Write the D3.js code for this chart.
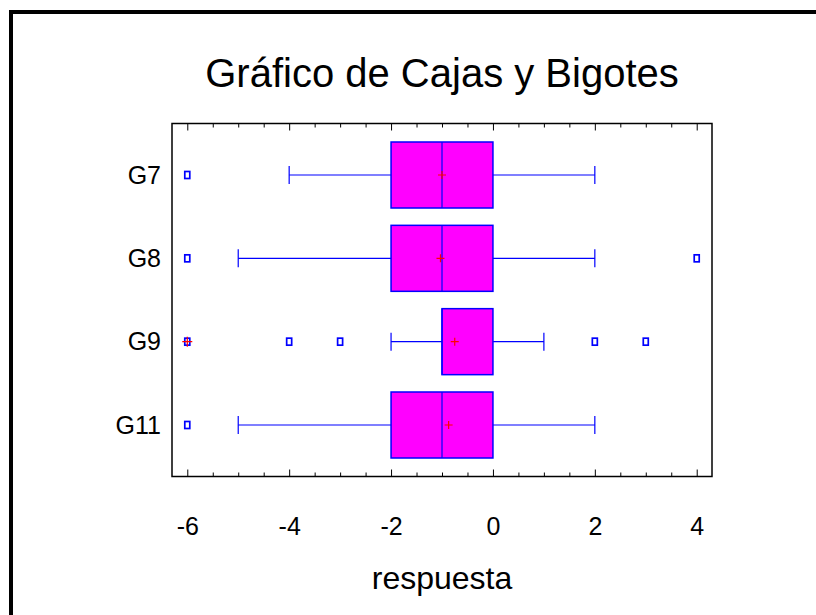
<!DOCTYPE html>
<html>
<head>
<meta charset="utf-8">
<script src="https://cdn.jsdelivr.net/npm/d3@7"></script>
<style>
body { margin: 0; background: #fff; }
text { font-family: "Liberation Sans", Arial, sans-serif; }
</style>
</head>
<body>
<svg id="chart" width="816" height="615"></svg>
<script>
// data
var groups = ["G7", "G8", "G9", "G11"];
var lowWhisker = [-4, -5, -2, -5];
var q1 = [-2, -2, -1, -2];
var median = [-1, -1, -1, -1];
var q3 = [0, 0, 0, 0];
var highWhisker = [2, 2, 1, 2];
var means = [-1.0, -1.03, -0.75, -0.87];
var outliers = [[-6], [-6, 4], [-6, -4, -3, 2, 3], [-6]];
var farOutliers = [[], [], [-6], []];
var majorTicks = [-6, -4, -2, 0, 2, 4];

var PLOT_L = 172, PLOT_R = 712, PLOT_T = 123.5, PLOT_B = 476.5;
var BOX_H = 66, CAP_H = 18;

var svg = d3.select("#chart");

// outer frame (right/bottom edges run off the page)
svg.append("rect")
	.attr("x", 11).attr("y", 12)
	.attr("width", 900).attr("height", 700)
	.attr("fill", "none").attr("stroke", "#000").attr("stroke-width", 4);

var x = d3.scaleLinear().domain([-6.3, 4.3]).range([PLOT_L, PLOT_R]);
var y = d3.scalePoint().domain(groups).range([PLOT_T, PLOT_B]).padding(0.618);

var minorTicks = d3.range(-6, 4.01, 0.5).filter(function(v){ return majorTicks.indexOf(v) < 0; });

// axes, ticks inward
svg.append("g").attr("transform", "translate(0," + PLOT_B + ")")
	.call(d3.axisBottom(x).tickValues(majorTicks).tickSize(-7).tickPadding(41).tickFormat(function(v){ return String(v); }))
	.call(function(g){
		g.select(".domain").remove();
		g.selectAll("text").attr("font-size", 25).attr("fill", "#000").style("font-family", "'Liberation Sans', Arial, sans-serif");
	});
svg.append("g").attr("transform", "translate(0," + PLOT_B + ")")
	.call(d3.axisBottom(x).tickValues(minorTicks).tickSize(-4).tickFormat(""))
	.select(".domain").remove();
svg.append("g").attr("transform", "translate(0," + PLOT_T + ")")
	.call(d3.axisTop(x).tickValues(majorTicks).tickSize(-7).tickFormat(""))
	.select(".domain").remove();
svg.append("g").attr("transform", "translate(0," + PLOT_T + ")")
	.call(d3.axisTop(x).tickValues(minorTicks).tickSize(-4).tickFormat(""))
	.select(".domain").remove();

svg.append("g").attr("transform", "translate(" + PLOT_L + ",0)")
	.call(d3.axisLeft(y).tickSize(0).tickPadding(11))
	.call(function(g){
		g.select(".domain").remove();
		g.selectAll("text").attr("font-size", 25).attr("fill", "#000").style("font-family", "'Liberation Sans', Arial, sans-serif");
	});

svg.append("rect")
	.attr("x", PLOT_L).attr("y", PLOT_T)
	.attr("width", PLOT_R - PLOT_L).attr("height", PLOT_B - PLOT_T)
	.attr("fill", "none").attr("stroke", "#000").attr("stroke-width", 1.5);

// boxes
var rows = groups.map(function(g, i){
	return {g: g, lo: lowWhisker[i], q1: q1[i], med: median[i], q3: q3[i], hi: highWhisker[i],
		mean: means[i], out: outliers[i], far: farOutliers[i]};
});

var box = svg.append("g").selectAll("g").data(rows).enter().append("g")
	.attr("transform", function(d){ return "translate(0," + y(d.g) + ")"; });

box.append("line")
	.attr("x1", function(d){ return x(d.lo); }).attr("x2", function(d){ return x(d.q1); })
	.attr("stroke", "#0000ff").attr("stroke-width", 1.2);
box.append("line")
	.attr("x1", function(d){ return x(d.q3); }).attr("x2", function(d){ return x(d.hi); })
	.attr("stroke", "#0000ff").attr("stroke-width", 1.2);
box.append("line")
	.attr("x1", function(d){ return x(d.lo); }).attr("x2", function(d){ return x(d.lo); })
	.attr("y1", -CAP_H / 2).attr("y2", CAP_H / 2)
	.attr("stroke", "#0000ff").attr("stroke-width", 1.2);
box.append("line")
	.attr("x1", function(d){ return x(d.hi); }).attr("x2", function(d){ return x(d.hi); })
	.attr("y1", -CAP_H / 2).attr("y2", CAP_H / 2)
	.attr("stroke", "#0000ff").attr("stroke-width", 1.2);
box.append("rect")
	.attr("x", function(d){ return x(d.q1); })
	.attr("width", function(d){ return x(d.q3) - x(d.q1); })
	.attr("y", -BOX_H / 2).attr("height", BOX_H)
	.attr("fill", "#ff00ff").attr("stroke", "#0000ff").attr("stroke-width", 1.5);
box.append("line")
	.attr("x1", function(d){ return x(d.med); }).attr("x2", function(d){ return x(d.med); })
	.attr("y1", -BOX_H / 2).attr("y2", BOX_H / 2)
	.attr("stroke", "#0000ff").attr("stroke-width", 1.2);

// mean markers
function plus(sel, cx, size)
{
	sel.append("path")
		.attr("d", function(d){
			var px = cx(d);
			return "M" + (px - size) + ",0H" + (px + size) + "M" + px + "," + (-size) + "V" + size;
		})
		.attr("stroke", "#ff0000").attr("stroke-width", 1.2).attr("fill", "none");
}
plus(box, function(d){ return x(d.mean); }, 4);

// outliers
box.selectAll(".out").data(function(d){ return d.out; }).enter().append("rect")
	.attr("class", "out")
	.attr("x", function(v){ return x(v) - 2.5; }).attr("y", -3.5)
	.attr("width", 5).attr("height", 7)
	.attr("fill", "#fff").attr("stroke", "#0000ff").attr("stroke-width", 1.7);
box.selectAll(".far").data(function(d){ return d.far; }).enter().append("g")
	.attr("class", "far")
	.call(function(s){ plus(s, function(v){ return x(v); }, 5); });

// titles
svg.append("text")
	.attr("x", (PLOT_L + PLOT_R) / 2).attr("y", 87)
	.attr("text-anchor", "middle").attr("font-size", 40)
	.text("Gráfico de Cajas y Bigotes");
svg.append("text")
	.attr("x", (PLOT_L + PLOT_R) / 2).attr("y", 589)
	.attr("text-anchor", "middle").attr("font-size", 32)
	.text("respuesta");
</script>
</body>
</html>
